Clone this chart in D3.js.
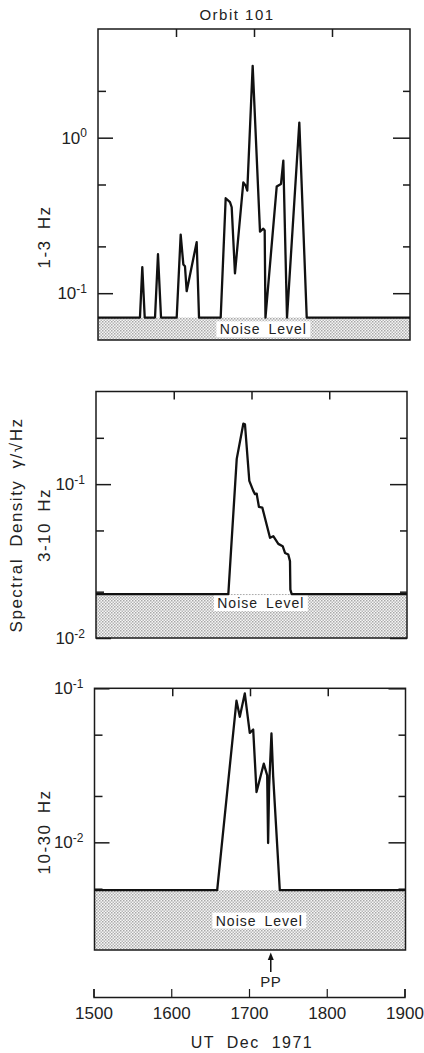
<!DOCTYPE html>
<html>
<head>
<meta charset="utf-8">
<script src="https://cdn.jsdelivr.net/npm/d3@7"></script>
<style>
  body { margin: 0; background: #fff; }
  svg { display: block; font-family: 'Liberation Sans', Arial, sans-serif; fill: #222; }
</style>
</head>
<body>
<svg id="chart" width="424" height="1053"></svg>
<script>
// UT, Dec 1971 (hours)
var utTicks = [1500, 1600, 1700, 1800, 1900];
var ppTime = 1728;

// 1-3 Hz band
var lowNoise = 0.0697;
var lowTime = [1500, 1553.8, 1556.8, 1559.9, 1573.1, 1576.9, 1580.8, 1600.9, 1606, 1609.4, 1611.5, 1613.7,
  1626.5, 1629.5, 1657.3, 1663.7, 1669.2, 1671.4, 1675.6, 1686.3, 1689.3, 1691.4, 1698.3, 1707.7, 1711.9,
  1713.7, 1714.7, 1729.1, 1734.6, 1737.6, 1742.3, 1758.1, 1767.6, 1900];
var lowValue = [lowNoise, lowNoise, 0.147, lowNoise, lowNoise, 0.178, lowNoise, lowNoise, 0.238, 0.153, 0.149, 0.103,
  0.213, lowNoise, lowNoise, 0.408, 0.385, 0.357, 0.134, 0.516, 0.492, 0.457, 2.9, 0.249, 0.26,
  0.253, lowNoise, 0.485, 0.504, 0.713, lowNoise, 1.25, lowNoise, lowNoise];

// 3-10 Hz band
var midNoise = 0.0193;
var midTime = [1500, 1670.2, 1681, 1689.5, 1691.6, 1697.2, 1702.3, 1704.5, 1706.7, 1707.5, 1709.6, 1713.9,
  1723.8, 1728, 1734.5, 1740.1, 1743.1, 1747.3, 1749.5, 1750, 1751.7, 1900];
var midValue = [midNoise, midNoise, 0.146, 0.247, 0.245, 0.105, 0.0904, 0.0861, 0.0868, 0.0817, 0.0711, 0.0704,
  0.0448, 0.0459, 0.0409, 0.0395, 0.0357, 0.0349, 0.0316, 0.0206, midNoise, midNoise];

// 10-30 Hz band
var highNoise = 0.0049;
var highTime = [1500, 1657.8, 1682.6, 1686.9, 1693.3, 1699.7, 1704.1, 1708.4, 1717.7, 1722.1, 1723.3, 1724.6,
  1727.6, 1729.8, 1738.3, 1900];
var highValue = [highNoise, highNoise, 0.083, 0.0653, 0.0927, 0.0513, 0.054, 0.0212, 0.0324, 0.0272, 0.0099, 0.0231,
  0.0509, 0.0268, highNoise, highNoise];

var svg = d3.select('#chart');

var defs = svg.append('defs');
var pat = defs.append('pattern').attr('id', 'stipple')
  .attr('width', 3).attr('height', 3).attr('patternUnits', 'userSpaceOnUse');
pat.append('rect').attr('width', 3).attr('height', 3).attr('fill', '#f6f6f6');
pat.append('rect').attr('width', 1.5).attr('height', 1.5).attr('fill', '#a8a8a8');
pat.append('rect').attr('x', 1.5).attr('y', 1.5).attr('width', 1.5).attr('height', 1.5).attr('fill', '#b8b8b8');

// labelPos: 0 = top of band, 0.5 = middle of band
var panels = [
  { left: 98, right: 410, top: 29, bottom: 340, domain: [0.05, 5], time: lowTime, value: lowValue, noise: lowNoise,
    major: [0.1, 1], minor: [0.2, 0.5, 2], labels: [[0.1, '-1'], [1, '0']], name: '1-3 Hz', nameY: 237, labelPos: 0.5 },
  { left: 96, right: 407, top: 391.5, bottom: 638, domain: [0.01, 0.4], time: midTime, value: midValue, noise: midNoise,
    major: [0.01, 0.1], minor: [0.02, 0.05, 0.2], labels: [[0.01, '-2'], [0.1, '-1']], name: '3-10 Hz', nameY: 525, labelPos: 0 },
  { left: 94.5, right: 405.5, top: 688.3, bottom: 950, domain: [0.002, 0.1], time: highTime, value: highValue, noise: highNoise,
    major: [0.01, 0.1], minor: [0.005, 0.02, 0.05], labels: [[0.01, '-2'], [0.1, '-1']], name: '10-30 Hz', nameY: 832, labelPos: 0.5 }
];

panels.forEach(function (p) {
  var x = d3.scaleLinear().domain([1500, 1900]).range([p.left, p.right]);
  var y = d3.scaleLog().domain(p.domain).range([p.bottom, p.top]);
  var g = svg.append('g');

  // noise band
  var bandTop = y(p.noise);
  var bandH = y(p.domain[0]) - bandTop;
  g.append('rect')
    .attr('x', x(1500)).attr('y', bandTop)
    .attr('width', x(1900) - x(1500)).attr('height', bandH)
    .attr('fill', 'url(#stipple)');

  var labelX = x(1712);
  var boxH = Math.min(bandH - 1, 16);
  var boxY = bandTop + 1 + (bandH - 1 - boxH) * p.labelPos;
  g.append('rect')
    .attr('x', labelX - 47).attr('y', boxY)
    .attr('width', 94).attr('height', boxH)
    .attr('fill', '#fff');
  g.append('text')
    .attr('x', labelX).attr('y', boxY + boxH / 2)
    .attr('dy', '0.36em')
    .attr('text-anchor', 'middle')
    .attr('font-size', 14).attr('letter-spacing', 1).attr('word-spacing', 3)
    .text('Noise Level');

  // inward ticks on all four sides
  function tickAxis(axis, tx, ty) {
    var a = g.append('g').attr('transform', 'translate(' + tx + ',' + ty + ')').call(axis);
    a.select('.domain').remove();
    a.selectAll('text').remove();
    a.selectAll('line').attr('stroke', '#1a1a1a').attr('stroke-width', 1.5);
  }
  tickAxis(d3.axisLeft(y).tickValues(p.major).tickSize(-15), p.left, 0);
  tickAxis(d3.axisLeft(y).tickValues(p.minor).tickSize(-8), p.left, 0);
  tickAxis(d3.axisRight(y).tickValues(p.major).tickSize(-17), p.right, 0);
  tickAxis(d3.axisRight(y).tickValues(p.minor).tickSize(-7), p.right, 0);
  tickAxis(d3.axisTop(x).tickValues([1600, 1700, 1800]).tickSize(-8), 0, p.top);

  // frame
  g.append('rect')
    .attr('x', p.left).attr('y', p.top)
    .attr('width', p.right - p.left).attr('height', p.bottom - p.top)
    .attr('fill', 'none').attr('stroke', '#1a1a1a').attr('stroke-width', 1.5);

  // signal
  var line = d3.line()
    .x(function (d) { return x(d[0]); })
    .y(function (d) { return y(d[1]); });
  g.append('path')
    .datum(d3.zip(p.time, p.value))
    .attr('d', line)
    .attr('fill', 'none').attr('stroke', '#111').attr('stroke-width', 2.3)
    .attr('stroke-linejoin', 'round');

  // decade labels
  p.labels.forEach(function (l) {
    var t = g.append('text')
      .attr('x', p.left - 11).attr('y', y(l[0]))
      .attr('dy', '0.36em').attr('text-anchor', 'end')
      .attr('font-size', 17);
    t.append('tspan').text('10');
    t.append('tspan').attr('font-size', 12).attr('dy', '-0.55em').text(l[1]);
  });

  // band name
  g.append('text')
    .attr('transform', 'translate(44,' + p.nameY + ') rotate(-90)')
    .attr('text-anchor', 'middle').attr('dy', '0.36em')
    .attr('font-size', 17).attr('letter-spacing', 1.5).attr('word-spacing', 4)
    .text(p.name);
});

svg.append('text')
  .attr('x', 237).attr('y', 20)
  .attr('text-anchor', 'middle')
  .attr('font-size', 15).attr('letter-spacing', 1.5)
  .text('Orbit 101');

svg.append('text')
  .attr('transform', 'translate(16,525) rotate(-90)')
  .attr('text-anchor', 'middle').attr('dy', '0.36em')
  .attr('font-size', 17).attr('letter-spacing', 1.5).attr('word-spacing', 5)
  .text('Spectral Density \u03b3/\u221aHz');

// bottom time axis
var xAxisScale = d3.scaleLinear().domain([1500, 1900]).range([93.5, 404.5]);
var xa = svg.append('g')
  .attr('transform', 'translate(0,997)')
  .call(d3.axisBottom(xAxisScale).tickValues(utTicks).tickSize(-8).tickSizeOuter(-8).tickPadding(10)
    .tickFormat(d3.format('d')));
xa.select('.domain').attr('stroke', '#1a1a1a').attr('stroke-width', 1.5);
xa.selectAll('line').attr('stroke', '#1a1a1a').attr('stroke-width', 1.2);
xa.selectAll('text').attr('font-size', 17).attr('font-family', null).attr('fill', '#222');

svg.append('text')
  .attr('x', 252).attr('y', 1048)
  .attr('text-anchor', 'middle')
  .attr('font-size', 16).attr('letter-spacing', 1.5).attr('word-spacing', 6)
  .text('UT Dec 1971');

// PP marker
var ppX = xAxisScale(ppTime);
svg.append('line')
  .attr('x1', ppX).attr('x2', ppX).attr('y1', 972).attr('y2', 958)
  .attr('stroke', '#111').attr('stroke-width', 1.5);
svg.append('path')
  .attr('d', d3.line()([[ppX - 3, 960], [ppX, 952.5], [ppX + 3, 960]]) + 'Z')
  .attr('fill', '#111');
svg.append('text')
  .attr('x', ppX).attr('y', 987)
  .attr('text-anchor', 'middle')
  .attr('font-size', 15).attr('letter-spacing', 0.5)
  .text('PP');
</script>
</body>
</html>
